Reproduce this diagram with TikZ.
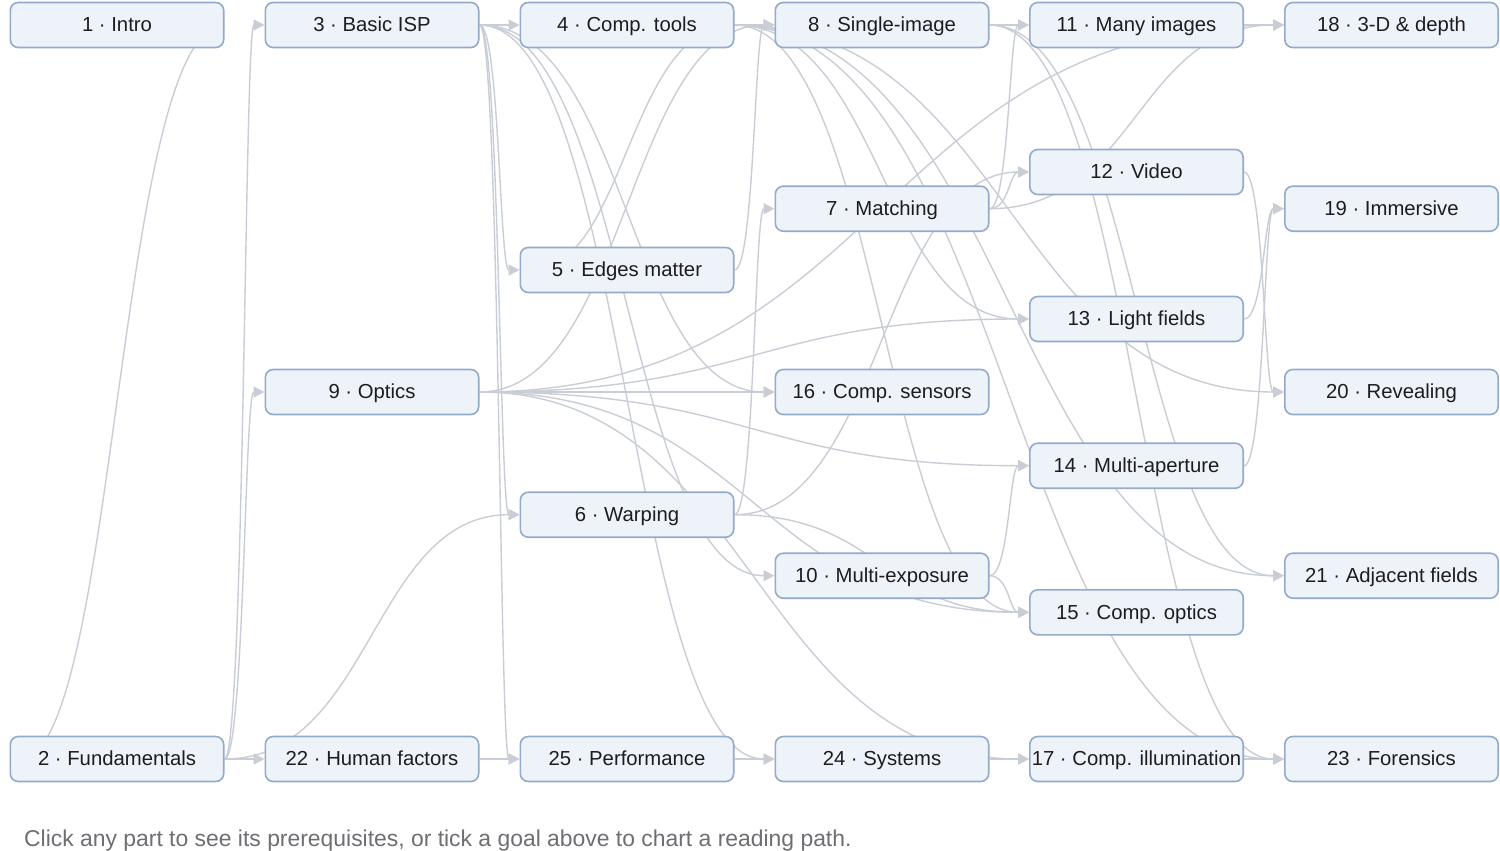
\documentclass[tikz,border=0pt]{standalone}
\usepackage{fontspec}
\setmainfont{Liberation Sans}
\usetikzlibrary{arrows.meta,backgrounds,calc}
\definecolor{nodefill}{HTML}{EEF3FA}
\definecolor{nodeline}{HTML}{94AACB}
\definecolor{edgecol}{HTML}{C9CED6}
\definecolor{txt}{HTML}{1D1D1F}
\definecolor{captxt}{HTML}{6E6E73}
\tikzset{
  part/.style={draw=nodeline, line width=1.6pt, fill=nodefill, rounded corners=8pt,
    minimum width=213.4pt, minimum height=45pt, inner sep=0pt, text=txt,
    text height=15pt, text depth=1.6pt,
    font=\fontsize{20.3pt}{24pt}\selectfont},
  link/.style={draw=edgecol, line width=1.4pt, -{Triangle[length=11pt,width=11pt]}},
  caption/.style={anchor=base west, inner sep=0pt, text=captxt,
    font=\fontsize{22.9pt}{27pt}\selectfont}
}
\newcommand\lnk[2]{\draw[link] let \p1=(#1.east), \p2=(#2.west) in
  (#1.east) .. controls ({0.5*\x1+0.5*\x2},\y1) and ({0.5*\x1+0.5*\x2},\y2) .. (#2.west);}
\begin{document}
\begin{tikzpicture}[x=1pt,y=-1pt]
\useasboundingbox (0,0) rectangle (1500,851);
\begin{scope}[on background layer]
  \fill[white] (0,0) rectangle (1500,851);
\end{scope}
% columns: 117, 372, 627, 882, 1136.5, 1391.5
\node[part] (n1)  at (117,25)     {1 · Intro};
\node[part] (n2)  at (117,759)    {2 · Fundamentals};
\node[part] (n3)  at (372,25)     {3 · Basic ISP};
\node[part] (n9)  at (372,392)    {9 · Optics};
\node[part] (n22) at (372,759)    {22 · Human factors};
\node[part] (n4)  at (627,25)     {4 · Comp. tools};
\node[part] (n5)  at (627,270)    {5 · Edges matter};
\node[part] (n6)  at (627,514.7)  {6 · Warping};
\node[part] (n25) at (627,759)    {25 · Performance};
\node[part] (n8)  at (882,25)     {8 · Single-image};
\node[part] (n7)  at (882,208.7)  {7 · Matching};
\node[part] (n16) at (882,392)    {16 · Comp. sensors};
\node[part] (n10) at (882,575.7)  {10 · Multi-exposure};
\node[part] (n24) at (882,759)    {24 · Systems};
\node[part] (n11) at (1136.5,25)    {11 · Many images};
\node[part] (n12) at (1136.5,172)   {12 · Video};
\node[part] (n13) at (1136.5,319)   {13 · Light fields};
\node[part] (n14) at (1136.5,465.7) {14 · Multi-aperture};
\node[part] (n15) at (1136.5,612.3) {15 · Comp. optics};
\node[part] (n17) at (1136.5,759)   {17 · Comp. illumination};
\node[part] (n18) at (1391.5,25)    {18 · 3-D \& depth};
\node[part] (n19) at (1391.5,208.7) {19 · Immersive};
\node[part] (n20) at (1391.5,392)   {20 · Revealing};
\node[part] (n21) at (1391.5,575.7) {21 · Adjacent fields};
\node[part] (n23) at (1391.5,759)   {23 · Forensics};
\node[caption] (cap) at (24,846) {Click any part to see its prerequisites, or tick a goal above to chart a reading path.};
\begin{scope}[on background layer]
  \lnk{n1}{n2}
  \lnk{n2}{n3} \lnk{n2}{n9} \lnk{n2}{n22} \lnk{n2}{n6}
  \lnk{n3}{n4} \lnk{n3}{n5} \lnk{n3}{n6} \lnk{n3}{n25} \lnk{n3}{n10} \lnk{n3}{n16} \lnk{n3}{n24}
  \lnk{n22}{n25}
  \lnk{n4}{n5}
  \lnk{n4}{n8} \lnk{n4}{n13} \lnk{n4}{n15} \lnk{n4}{n20} \lnk{n4}{n21} \lnk{n4}{n23}
  \lnk{n5}{n8}
  \lnk{n6}{n7} \lnk{n6}{n12} \lnk{n6}{n15}
  \lnk{n9}{n8} \lnk{n9}{n13} \lnk{n9}{n14} \lnk{n9}{n15} \lnk{n9}{n16} \lnk{n9}{n17} \lnk{n9}{n18}
  \lnk{n25}{n24}
  \lnk{n8}{n11} \lnk{n8}{n21} \lnk{n8}{n23}
  \lnk{n7}{n11} \lnk{n7}{n12} \lnk{n7}{n18}
  \lnk{n10}{n14} \lnk{n10}{n15}
  \lnk{n24}{n17}
  \lnk{n11}{n18} \lnk{n12}{n20} \lnk{n13}{n19} \lnk{n14}{n19} \lnk{n17}{n23}
\end{scope}
\end{tikzpicture}
\end{document}
